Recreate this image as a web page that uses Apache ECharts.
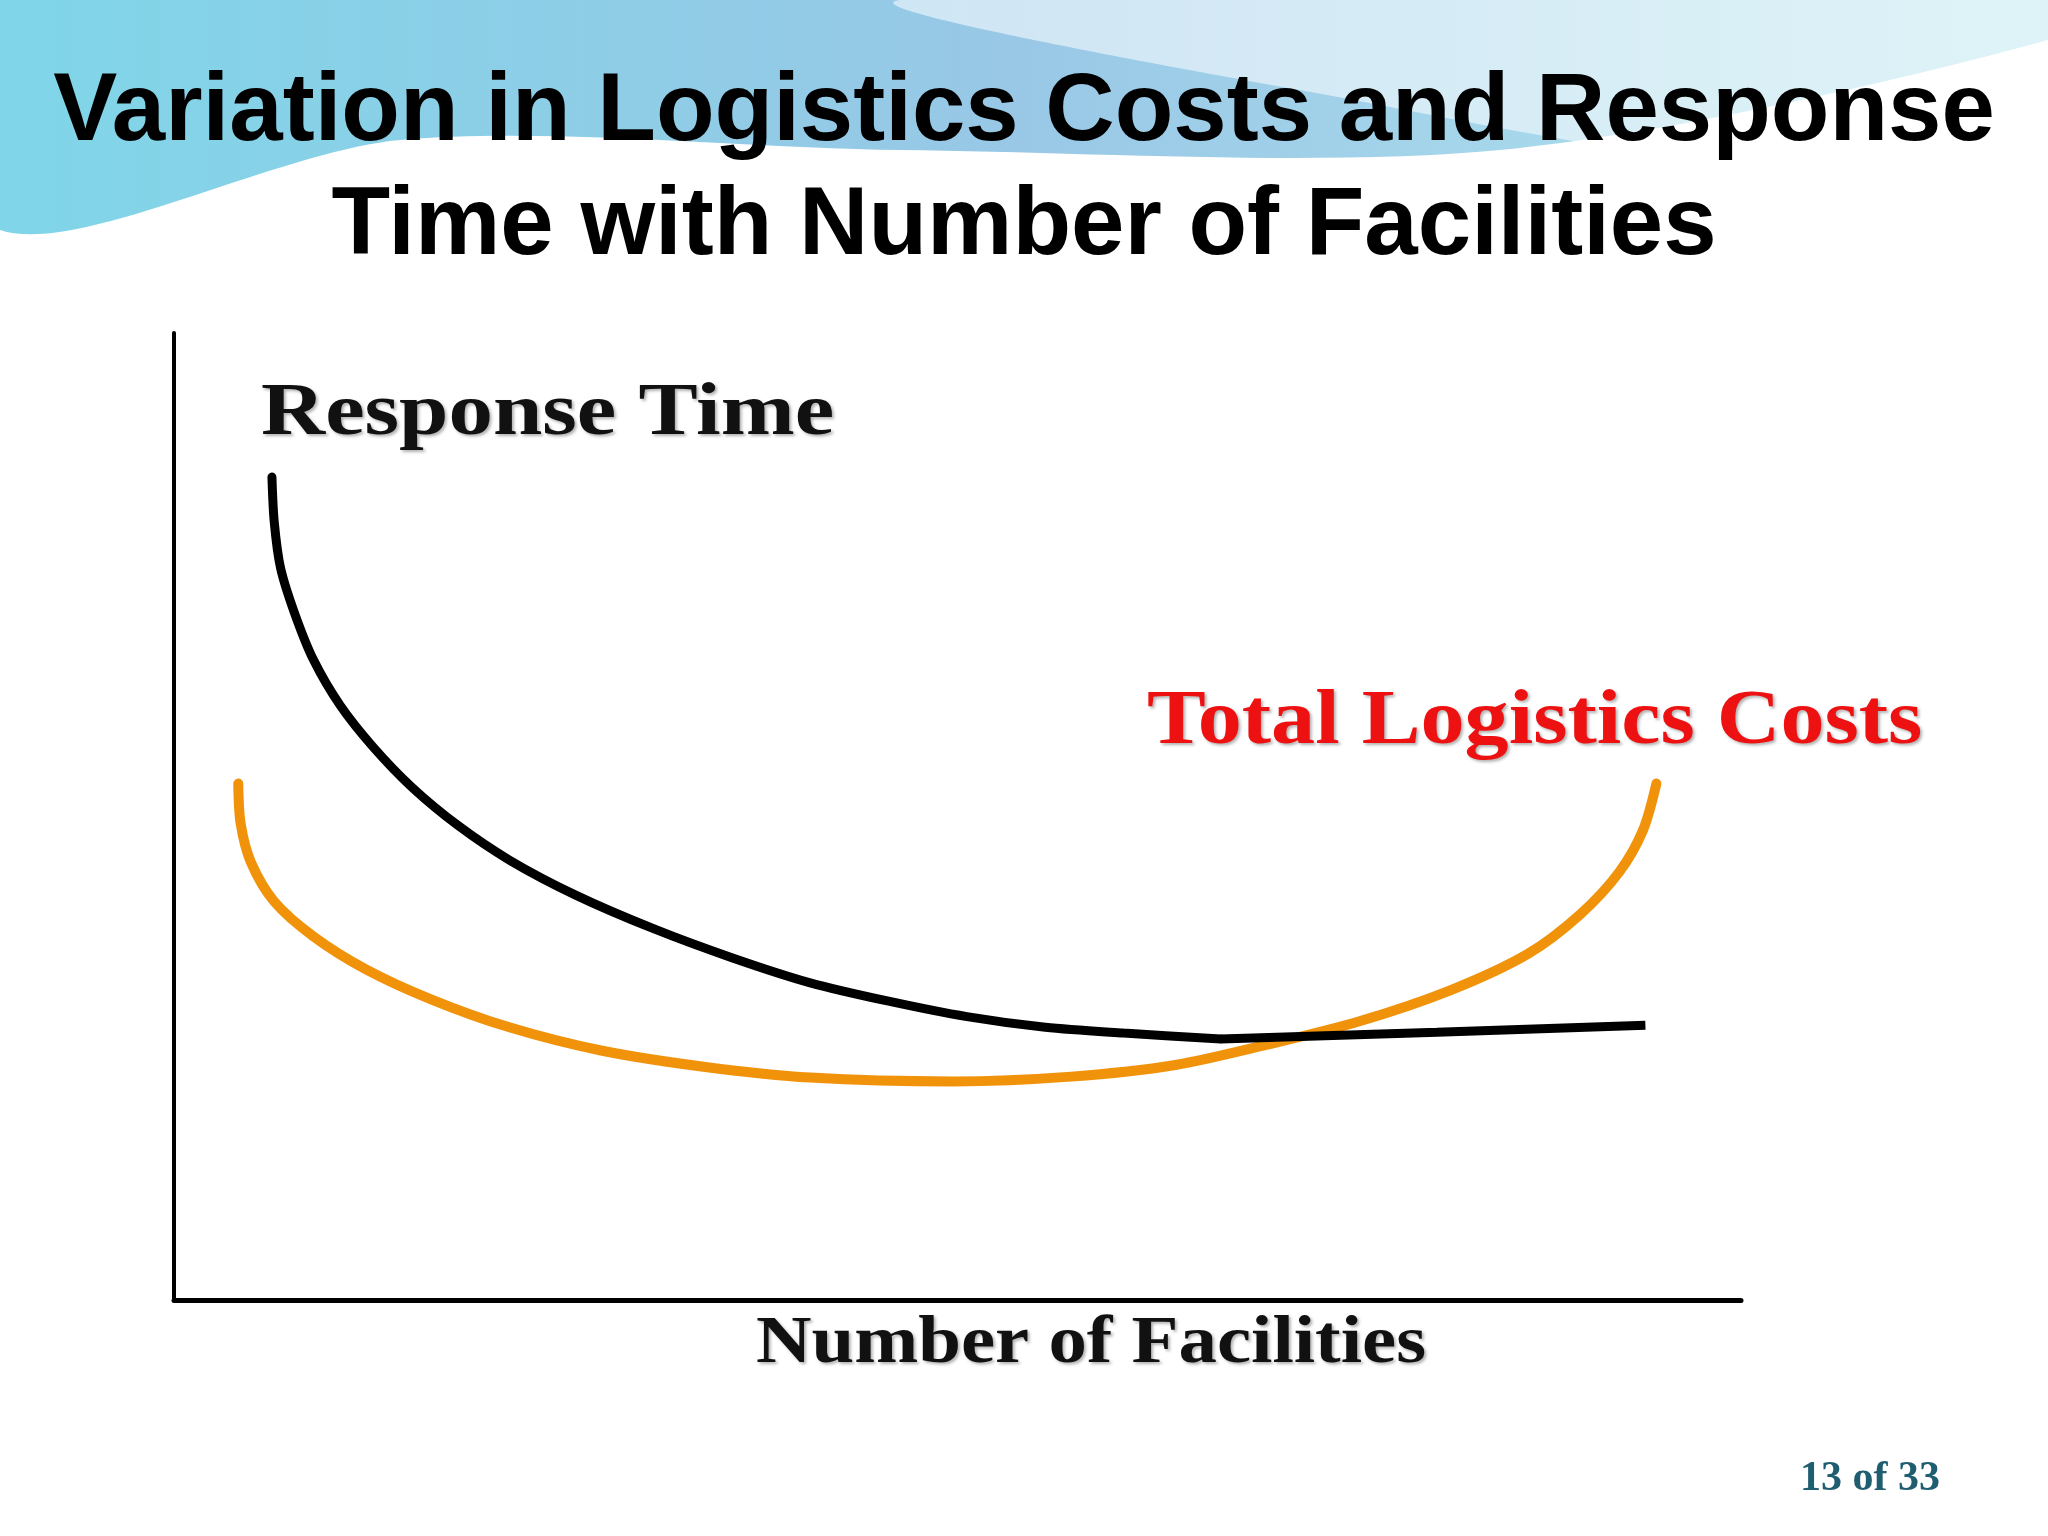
<!DOCTYPE html>
<html><head><meta charset="utf-8">
<script src="https://cdn.jsdelivr.net/npm/echarts@6/dist/echarts.min.js"></script>
<style>html,body{margin:0;padding:0;background:#fff}#c{width:2048px;height:1536px}</style>
</head><body><div id="c"></div>
<script>
// curve points as [facilities, value] on a 0-100 scale
var responseTime = [[6.25,85.1],[6.4,80.4],[6.8,75.7],[7.7,71.0],[8.9,66.2],[10.6,61.5],[12.7,57.2],[15.2,53.0],[18.1,49.1],[21.4,45.5],[25.6,41.9],[30.6,38.4],[35.6,35.4],[40.6,32.8],[45.6,30.9],[50.6,29.3],[55.6,28.2],[60.6,27.6],[66.8,27.0]];
var responseTail = [[66.8,27.0],[80.6,27.7],[93.9,28.4]];
var logisticsCosts = [[4.1,53.4],[4.25,49.3],[4.9,45.3],[6.4,41.2],[8.9,37.6],[12.25,34.2],[16.4,31.1],[21.4,28.2],[27.25,25.8],[33.9,24.1],[40.6,23.0],[49.75,22.6],[57.25,23.1],[63.9,24.3],[69.75,26.4],[75.6,28.8],[81.4,32.0],[86.4,35.8],[89.75,39.9],[92.25,44.3],[93.75,48.6],[94.6,53.4]];

var chart = echarts.init(document.getElementById('c'));
var serif = '"Liberation Serif", "DejaVu Serif", serif';
var shadow = {textShadowColor:'rgba(0,0,0,0.3)', textShadowBlur:3, textShadowOffsetX:2, textShadowOffsetY:2};
var topFill = {type:'linear', x:0, y:0, x2:1, y2:0, colorStops:[{offset:0,color:'#7fd6e8'},{offset:0.5,color:'#98c8e6'},{offset:1,color:'#b5e6ef'}]};

chart.setOption({
  backgroundColor: '#fff',
  animation: false,
  grid: {left: 174, top: 333, width: 1567, height: 967},
  xAxis: {type:'value', min:0, max:100, axisLine:{show:true, lineStyle:{color:'#000', width:5}},
    axisTick:{show:false}, axisLabel:{show:false}, splitLine:{show:false}},
  yAxis: {type:'value', min:0, max:100, axisLine:{show:true, lineStyle:{color:'#000', width:4}},
    axisTick:{show:false}, axisLabel:{show:false}, splitLine:{show:false}},
  graphic: [
    {type:'polygon', z:-1, shape:{points:[[0,0],[2048,0],[2048,40],[1500,150],[900,150],[400,140],[0,230]], smooth:0.3},
      style:{fill:topFill}},
    {type:'polygon', z:-1, shape:{points:[[900,0],[1300,90],[1800,160],[2048,60],[2048,0]], smooth:0.3},
      style:{fill:'rgba(255,255,255,0.55)'}},
    {type:'text', left:'center', top:66, style:{text:'Variation in Logistics Costs and Response', font:'bold 96px "Liberation Sans", Arial, sans-serif', fill:'#000'}},
    {type:'text', left:'center', top:180, style:{text:'Time with Number of Facilities', font:'bold 96px "Liberation Sans", Arial, sans-serif', fill:'#000'}},
    {type:'text', x:261, y:378, scaleX:1.2, style:Object.assign({text:'Response Time', font:'bold 74px '+serif, fill:'#111'}, shadow)},
    {type:'text', x:1147, y:684, scaleX:1.13, style:Object.assign({text:'Total Logistics Costs', font:'bold 78px '+serif, fill:'#ee1111'}, shadow)},
    {type:'text', x:756, y:1310, scaleX:1.13, style:Object.assign({text:'Number of Facilities', font:'bold 68px '+serif, fill:'#111'}, shadow)},
    {type:'text', x:1800, y:1458, style:{text:'13 of 33', font:'bold 42px '+serif, fill:'#1f5d70'}}
  ],
  series: [
    {type:'line', data:logisticsCosts, smooth:0.3, symbol:'none', lineStyle:{color:'#f0930a', width:10, cap:'round'}},
    {type:'line', data:responseTime, smooth:0.3, symbol:'none', lineStyle:{color:'#000', width:9, cap:'round'}},
    {type:'line', data:responseTail, smooth:false, symbol:'none', lineStyle:{color:'#000', width:9}}
  ]
});
</script></body></html>
